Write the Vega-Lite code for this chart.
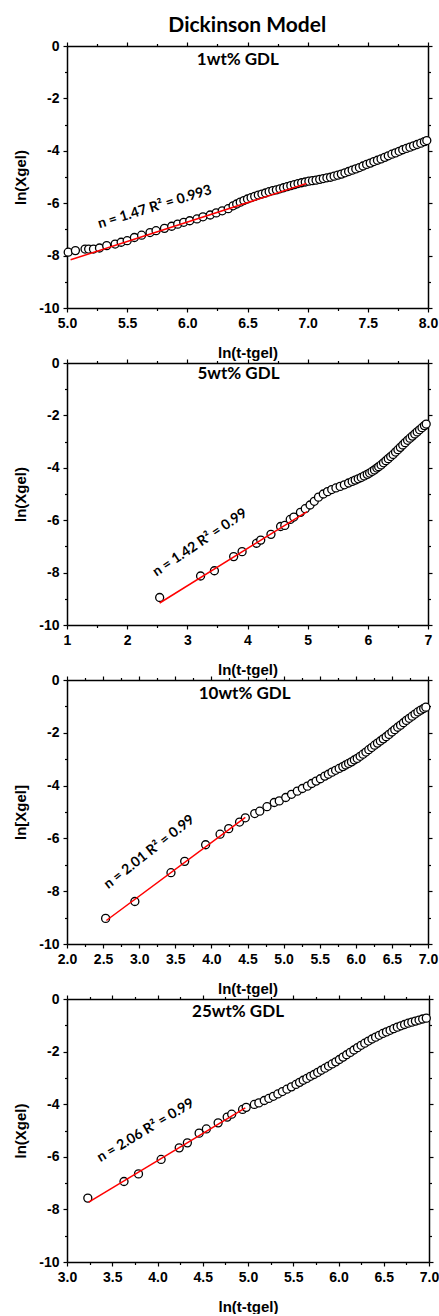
{
  "$schema": "https://vega.github.io/schema/vega-lite/v6.json",
  "background": "white",
  "padding": {"left": 13, "top": 15, "right": 0, "bottom": 0},
  "title": {"text": "Dickinson Model", "font": "Lato", "fontSize": 21, "fontWeight": "bold", "color": "black", "anchor": "middle", "dx": 21, "offset": 3},
  "spacing": 55,
  "bounds": "flush",
  "datasets": {
    "p1pts": [
      {"x":5.01,"y":-7.87},{"x":5.07,"y":-7.81},{"x":5.15,"y":-7.75},{"x":5.18,"y":-7.75},{"x":5.22,"y":-7.75},{"x":5.27,"y":-7.71},{"x":5.33,"y":-7.62},{"x":5.40,"y":-7.56},{"x":5.45,"y":-7.49},{"x":5.50,"y":-7.43},{"x":5.56,"y":-7.31},{"x":5.62,"y":-7.22},{"x":5.69,"y":-7.12},{"x":5.74,"y":-7.05},{"x":5.81,"y":-6.96},{"x":5.87,"y":-6.88},{"x":5.92,"y":-6.80},{"x":5.97,"y":-6.73},{"x":6.02,"y":-6.67},{"x":6.08,"y":-6.60},{"x":6.13,"y":-6.52},{"x":6.19,"y":-6.45},{"x":6.24,"y":-6.37},{"x":6.29,"y":-6.29},{"x":6.34,"y":-6.21},{"x":6.38,"y":-6.10},{"x":6.41,"y":-6.03},{"x":6.44,"y":-5.96},{"x":6.47,"y":-5.90},{"x":6.50,"y":-5.84},{"x":6.53,"y":-5.79},{"x":6.56,"y":-5.74},{"x":6.59,"y":-5.69},{"x":6.62,"y":-5.65},{"x":6.65,"y":-5.61},{"x":6.68,"y":-5.56},{"x":6.71,"y":-5.52},{"x":6.74,"y":-5.49},{"x":6.77,"y":-5.45},{"x":6.80,"y":-5.41},{"x":6.83,"y":-5.37},{"x":6.86,"y":-5.33},{"x":6.89,"y":-5.29},{"x":6.92,"y":-5.25},{"x":6.95,"y":-5.22},{"x":6.98,"y":-5.19},{"x":7.01,"y":-5.16},{"x":7.04,"y":-5.14},{"x":7.07,"y":-5.12},{"x":7.10,"y":-5.09},{"x":7.13,"y":-5.06},{"x":7.16,"y":-5.03},{"x":7.19,"y":-5.01},{"x":7.22,"y":-4.97},{"x":7.25,"y":-4.93},{"x":7.28,"y":-4.89},{"x":7.31,"y":-4.84},{"x":7.34,"y":-4.79},{"x":7.37,"y":-4.74},{"x":7.40,"y":-4.69},{"x":7.43,"y":-4.64},{"x":7.46,"y":-4.58},{"x":7.49,"y":-4.52},{"x":7.52,"y":-4.47},{"x":7.55,"y":-4.41},{"x":7.58,"y":-4.36},{"x":7.61,"y":-4.31},{"x":7.64,"y":-4.25},{"x":7.67,"y":-4.19},{"x":7.70,"y":-4.13},{"x":7.73,"y":-4.08},{"x":7.76,"y":-4.02},{"x":7.79,"y":-3.96},{"x":7.82,"y":-3.91},{"x":7.85,"y":-3.86},{"x":7.88,"y":-3.81},{"x":7.91,"y":-3.76},{"x":7.94,"y":-3.71},{"x":7.97,"y":-3.65},{"x":7.99,"y":-3.61}
    ],
    "p1fit": [{"x":5.03,"y":-8.16},{"x":6.99,"y":-5.25}],
    "p2pts": [
      {"x":2.54,"y":-8.95},{"x":3.22,"y":-8.13},{"x":3.45,"y":-7.93},{"x":3.77,"y":-7.39},{"x":3.91,"y":-7.20},{"x":4.15,"y":-6.88},{"x":4.22,"y":-6.76},{"x":4.39,"y":-6.54},{"x":4.55,"y":-6.24},{"x":4.62,"y":-6.20},{"x":4.71,"y":-5.97},{"x":4.77,"y":-5.88},{"x":4.88,"y":-5.70},{"x":4.96,"y":-5.56},{"x":5.04,"y":-5.42},{"x":5.11,"y":-5.28},{"x":5.18,"y":-5.12},{"x":5.26,"y":-5.00},{"x":5.33,"y":-4.91},{"x":5.40,"y":-4.83},{"x":5.47,"y":-4.77},{"x":5.54,"y":-4.71},{"x":5.61,"y":-4.65},{"x":5.68,"y":-4.58},{"x":5.74,"y":-4.52},{"x":5.79,"y":-4.47},{"x":5.84,"y":-4.42},{"x":5.89,"y":-4.37},{"x":5.94,"y":-4.31},{"x":5.99,"y":-4.25},{"x":6.03,"y":-4.20},{"x":6.07,"y":-4.14},{"x":6.11,"y":-4.08},{"x":6.15,"y":-4.01},{"x":6.18,"y":-3.96},{"x":6.22,"y":-3.89},{"x":6.26,"y":-3.81},{"x":6.30,"y":-3.73},{"x":6.34,"y":-3.65},{"x":6.38,"y":-3.57},{"x":6.42,"y":-3.49},{"x":6.46,"y":-3.40},{"x":6.50,"y":-3.31},{"x":6.54,"y":-3.22},{"x":6.58,"y":-3.13},{"x":6.62,"y":-3.04},{"x":6.66,"y":-2.95},{"x":6.70,"y":-2.87},{"x":6.74,"y":-2.79},{"x":6.78,"y":-2.71},{"x":6.82,"y":-2.63},{"x":6.86,"y":-2.55},{"x":6.90,"y":-2.47},{"x":6.94,"y":-2.39},{"x":6.97,"y":-2.33}
    ],
    "p2fit": [{"x":2.54,"y":-9.16},{"x":4.99,"y":-5.67}],
    "p3pts": [
      {"x":2.535,"y":-9.03},{"x":2.94,"y":-8.39},{"x":3.44,"y":-7.30},{"x":3.63,"y":-6.87},{"x":3.92,"y":-6.24},{"x":4.12,"y":-5.84},{"x":4.24,"y":-5.63},{"x":4.39,"y":-5.38},{"x":4.47,"y":-5.22},{"x":4.60,"y":-5.06},{"x":4.67,"y":-4.97},{"x":4.77,"y":-4.80},{"x":4.87,"y":-4.64},{"x":4.94,"y":-4.58},{"x":5.03,"y":-4.45},{"x":5.11,"y":-4.33},{"x":5.19,"y":-4.21},{"x":5.26,"y":-4.11},{"x":5.33,"y":-4.02},{"x":5.39,"y":-3.92},{"x":5.45,"y":-3.83},{"x":5.51,"y":-3.74},{"x":5.57,"y":-3.64},{"x":5.62,"y":-3.57},{"x":5.67,"y":-3.49},{"x":5.72,"y":-3.42},{"x":5.77,"y":-3.35},{"x":5.82,"y":-3.28},{"x":5.86,"y":-3.22},{"x":5.90,"y":-3.16},{"x":5.94,"y":-3.10},{"x":5.98,"y":-3.03},{"x":6.02,"y":-2.97},{"x":6.06,"y":-2.89},{"x":6.10,"y":-2.81},{"x":6.14,"y":-2.73},{"x":6.18,"y":-2.64},{"x":6.22,"y":-2.56},{"x":6.26,"y":-2.47},{"x":6.30,"y":-2.39},{"x":6.34,"y":-2.31},{"x":6.38,"y":-2.23},{"x":6.42,"y":-2.15},{"x":6.46,"y":-2.06},{"x":6.50,"y":-1.97},{"x":6.54,"y":-1.88},{"x":6.58,"y":-1.79},{"x":6.62,"y":-1.71},{"x":6.66,"y":-1.62},{"x":6.70,"y":-1.53},{"x":6.74,"y":-1.45},{"x":6.78,"y":-1.37},{"x":6.82,"y":-1.29},{"x":6.86,"y":-1.21},{"x":6.90,"y":-1.14},{"x":6.94,"y":-1.08},{"x":6.97,"y":-1.03}
    ],
    "p3fit": [{"x":2.545,"y":-9.11},{"x":4.47,"y":-5.20}],
    "p4pts": [
      {"x":3.23,"y":-7.57},{"x":3.63,"y":-6.94},{"x":3.79,"y":-6.65},{"x":4.04,"y":-6.10},{"x":4.24,"y":-5.66},{"x":4.33,"y":-5.47},{"x":4.46,"y":-5.10},{"x":4.54,"y":-4.94},{"x":4.67,"y":-4.71},{"x":4.77,"y":-4.49},{"x":4.82,"y":-4.38},{"x":4.94,"y":-4.20},{"x":4.98,"y":-4.12},{"x":5.07,"y":-4.01},{"x":5.12,"y":-3.95},{"x":5.18,"y":-3.86},{"x":5.23,"y":-3.78},{"x":5.28,"y":-3.70},{"x":5.33,"y":-3.61},{"x":5.38,"y":-3.52},{"x":5.43,"y":-3.43},{"x":5.48,"y":-3.34},{"x":5.53,"y":-3.25},{"x":5.57,"y":-3.17},{"x":5.61,"y":-3.09},{"x":5.65,"y":-3.02},{"x":5.69,"y":-2.94},{"x":5.73,"y":-2.87},{"x":5.77,"y":-2.79},{"x":5.81,"y":-2.71},{"x":5.85,"y":-2.63},{"x":5.89,"y":-2.55},{"x":5.93,"y":-2.47},{"x":5.97,"y":-2.39},{"x":6.01,"y":-2.30},{"x":6.05,"y":-2.21},{"x":6.09,"y":-2.12},{"x":6.13,"y":-2.03},{"x":6.17,"y":-1.94},{"x":6.21,"y":-1.85},{"x":6.25,"y":-1.76},{"x":6.29,"y":-1.68},{"x":6.33,"y":-1.60},{"x":6.37,"y":-1.52},{"x":6.41,"y":-1.45},{"x":6.45,"y":-1.38},{"x":6.49,"y":-1.31},{"x":6.53,"y":-1.25},{"x":6.57,"y":-1.19},{"x":6.61,"y":-1.13},{"x":6.65,"y":-1.07},{"x":6.69,"y":-1.02},{"x":6.73,"y":-0.97},{"x":6.77,"y":-0.92},{"x":6.81,"y":-0.88},{"x":6.85,"y":-0.84},{"x":6.89,"y":-0.80},{"x":6.93,"y":-0.76},{"x":6.97,"y":-0.73}
    ],
    "p4fit": [{"x":3.24,"y":-7.72},{"x":4.97,"y":-4.14}]
  },
  "vconcat": [
    {
      "width": 361, "height": 262,
      "layer": [
        {"data": {"name": "p1pts"},
         "mark": {"type": "point", "shape": "circle", "filled": true, "fill": "white", "stroke": "black", "strokeWidth": 1.3, "size": 64, "opacity": 1},
         "encoding": {
           "x": {"field": "x", "type": "quantitative", "scale": {"domain": [5, 8], "nice": false, "zero": false},
                 "axis": {"orient": "bottom", "values": [5,5.25,5.5,5.75,6,6.25,6.5,6.75,7,7.25,7.5,7.75,8], "labelExpr": "abs(datum.value*2 - round(datum.value*2)) > 0.01 ? '' : format(datum.value, '.1f')", "tickSize": {"condition": {"test": "abs(datum.value*2 - round(datum.value*2)) > 0.01", "value": 2.5}, "value": 4}, "labelPadding": 4, "title": "ln(t-tgel)", "titlePadding": 15}},
           "y": {"field": "y", "type": "quantitative", "scale": {"domain": [-10, 0], "nice": false, "zero": false},
                 "axis": {"orient": "left", "values": [0,-1,-2,-3,-4,-5,-6,-7,-8,-9,-10], "labelExpr": "abs(datum.value % 2) > 0.01 ? '' : '' + datum.value", "tickSize": {"condition": {"test": "abs(datum.value % 2) > 0.01", "value": 2.5}, "value": 4}, "labelPadding": 4, "title": "ln(Xgel)", "titlePadding": 10}}
         }},
        {"data": {"name": "p1fit"},
         "mark": {"type": "line", "color": "#ff0000", "strokeWidth": 1.5},
         "encoding": {
           "x": {"field": "x", "type": "quantitative", "axis": {"orient": "top", "values": [5,5.25,5.5,5.75,6,6.25,6.5,6.75,7,7.25,7.5,7.75,8], "labels": false, "title": null, "tickSize": {"condition": {"test": "abs(datum.value*2 - round(datum.value*2)) > 0.01", "value": 2.5}, "value": 4}}},
           "y": {"field": "y", "type": "quantitative", "axis": {"orient": "right", "values": [0,-1,-2,-3,-4,-5,-6,-7,-8,-9,-10], "labels": false, "title": null, "tickSize": {"condition": {"test": "abs(datum.value % 2) > 0.01", "value": 2.5}, "value": 4}}}
         }},
        {"data": {"values": [{}]},
         "mark": {"type": "text", "font": "Lato", "fontWeight": "bold", "fontSize": 14, "angle": 343, "align": "center", "baseline": "middle", "color": "black"},
         "encoding": {"x": {"datum": 5.73, "type": "quantitative", "axis": null}, "y": {"datum": -6.15, "type": "quantitative", "axis": null}, "text": {"value": "n = 1.47 R² = 0.993"}}},
        {"data": {"values": [{}]},
         "mark": {"type": "text", "font": "Lato", "fontWeight": "bold", "fontSize": 17, "align": "center", "baseline": "middle", "color": "black"},
         "encoding": {"x": {"datum": 6.42, "type": "quantitative", "axis": null}, "y": {"datum": -0.53, "type": "quantitative", "axis": null}, "text": {"value": "1wt% GDL"}}}
      ]
    },
    {
      "width": 361, "height": 262,
      "layer": [
        {"data": {"name": "p2pts"},
         "mark": {"type": "point", "shape": "circle", "filled": true, "fill": "white", "stroke": "black", "strokeWidth": 1.3, "size": 64, "opacity": 1},
         "encoding": {
           "x": {"field": "x", "type": "quantitative", "scale": {"domain": [1, 7], "nice": false, "zero": false},
                 "axis": {"orient": "bottom", "values": [1,1.5,2,2.5,3,3.5,4,4.5,5,5.5,6,6.5,7], "labelExpr": "abs(datum.value - round(datum.value)) > 0.01 ? '' : format(datum.value, 'd')", "tickSize": {"condition": {"test": "abs(datum.value - round(datum.value)) > 0.01", "value": 2.5}, "value": 4}, "labelPadding": 4, "title": "ln(t-tgel)", "titlePadding": 15}},
           "y": {"field": "y", "type": "quantitative", "scale": {"domain": [-10, 0], "nice": false, "zero": false},
                 "axis": {"orient": "left", "values": [0,-1,-2,-3,-4,-5,-6,-7,-8,-9,-10], "labelExpr": "abs(datum.value % 2) > 0.01 ? '' : '' + datum.value", "tickSize": {"condition": {"test": "abs(datum.value % 2) > 0.01", "value": 2.5}, "value": 4}, "labelPadding": 4, "title": "ln(Xgel)", "titlePadding": 10}}
         }},
        {"data": {"name": "p2fit"},
         "mark": {"type": "line", "color": "#ff0000", "strokeWidth": 1.5},
         "encoding": {
           "x": {"field": "x", "type": "quantitative", "axis": {"orient": "top", "values": [1,1.5,2,2.5,3,3.5,4,4.5,5,5.5,6,6.5,7], "labels": false, "title": null, "tickSize": {"condition": {"test": "abs(datum.value - round(datum.value)) > 0.01", "value": 2.5}, "value": 4}}},
           "y": {"field": "y", "type": "quantitative", "axis": {"orient": "right", "values": [0,-1,-2,-3,-4,-5,-6,-7,-8,-9,-10], "labels": false, "title": null, "tickSize": {"condition": {"test": "abs(datum.value % 2) > 0.01", "value": 2.5}, "value": 4}}}
         }},
        {"data": {"values": [{}]},
         "mark": {"type": "text", "font": "Lato", "fontWeight": "bold", "fontSize": 14, "angle": 326, "align": "center", "baseline": "middle", "color": "black"},
         "encoding": {"x": {"datum": 3.21, "type": "quantitative", "axis": null}, "y": {"datum": -6.86, "type": "quantitative", "axis": null}, "text": {"value": "n = 1.42 R² = 0.99"}}},
        {"data": {"values": [{}]},
         "mark": {"type": "text", "font": "Lato", "fontWeight": "bold", "fontSize": 17, "align": "center", "baseline": "middle", "color": "black"},
         "encoding": {"x": {"datum": 3.85, "type": "quantitative", "axis": null}, "y": {"datum": -0.43, "type": "quantitative", "axis": null}, "text": {"value": "5wt% GDL"}}}
      ]
    },
    {
      "width": 361, "height": 264,
      "layer": [
        {"data": {"name": "p3pts"},
         "mark": {"type": "point", "shape": "circle", "filled": true, "fill": "white", "stroke": "black", "strokeWidth": 1.3, "size": 64, "opacity": 1},
         "encoding": {
           "x": {"field": "x", "type": "quantitative", "scale": {"domain": [2, 7], "nice": false, "zero": false},
                 "axis": {"orient": "bottom", "values": [2,2.25,2.5,2.75,3,3.25,3.5,3.75,4,4.25,4.5,4.75,5,5.25,5.5,5.75,6,6.25,6.5,6.75,7], "labelExpr": "abs(datum.value*2 - round(datum.value*2)) > 0.01 ? '' : format(datum.value, '.1f')", "tickSize": {"condition": {"test": "abs(datum.value*2 - round(datum.value*2)) > 0.01", "value": 2.5}, "value": 4}, "labelPadding": 4, "title": "ln(t-tgel)", "titlePadding": 15}},
           "y": {"field": "y", "type": "quantitative", "scale": {"domain": [-10, 0], "nice": false, "zero": false},
                 "axis": {"orient": "left", "values": [0,-1,-2,-3,-4,-5,-6,-7,-8,-9,-10], "labelExpr": "abs(datum.value % 2) > 0.01 ? '' : '' + datum.value", "tickSize": {"condition": {"test": "abs(datum.value % 2) > 0.01", "value": 2.5}, "value": 4}, "labelPadding": 4, "title": "ln[Xgel]", "titlePadding": 10}}
         }},
        {"data": {"name": "p3fit"},
         "mark": {"type": "line", "color": "#ff0000", "strokeWidth": 1.5},
         "encoding": {
           "x": {"field": "x", "type": "quantitative", "axis": {"orient": "top", "values": [2,2.25,2.5,2.75,3,3.25,3.5,3.75,4,4.25,4.5,4.75,5,5.25,5.5,5.75,6,6.25,6.5,6.75,7], "labels": false, "title": null, "tickSize": {"condition": {"test": "abs(datum.value*2 - round(datum.value*2)) > 0.01", "value": 2.5}, "value": 4}}},
           "y": {"field": "y", "type": "quantitative", "axis": {"orient": "right", "values": [0,-1,-2,-3,-4,-5,-6,-7,-8,-9,-10], "labels": false, "title": null, "tickSize": {"condition": {"test": "abs(datum.value % 2) > 0.01", "value": 2.5}, "value": 4}}}
         }},
        {"data": {"values": [{}]},
         "mark": {"type": "text", "font": "Lato", "fontWeight": "bold", "fontSize": 14, "angle": 322, "align": "center", "baseline": "middle", "color": "black"},
         "encoding": {"x": {"datum": 3.14, "type": "quantitative", "axis": null}, "y": {"datum": -6.52, "type": "quantitative", "axis": null}, "text": {"value": "n = 2.01 R² = 0.99"}}},
        {"data": {"values": [{}]},
         "mark": {"type": "text", "font": "Lato", "fontWeight": "bold", "fontSize": 17, "align": "center", "baseline": "middle", "color": "black"},
         "encoding": {"x": {"datum": 4.46, "type": "quantitative", "axis": null}, "y": {"datum": -0.53, "type": "quantitative", "axis": null}, "text": {"value": "10wt% GDL"}}}
      ]
    },
    {
      "width": 362, "height": 263,
      "layer": [
        {"data": {"name": "p4pts"},
         "mark": {"type": "point", "shape": "circle", "filled": true, "fill": "white", "stroke": "black", "strokeWidth": 1.3, "size": 64, "opacity": 1},
         "encoding": {
           "x": {"field": "x", "type": "quantitative", "scale": {"domain": [3, 7], "nice": false, "zero": false},
                 "axis": {"orient": "bottom", "values": [3,3.25,3.5,3.75,4,4.25,4.5,4.75,5,5.25,5.5,5.75,6,6.25,6.5,6.75,7], "labelExpr": "abs(datum.value*2 - round(datum.value*2)) > 0.01 ? '' : format(datum.value, '.1f')", "tickSize": {"condition": {"test": "abs(datum.value*2 - round(datum.value*2)) > 0.01", "value": 2.5}, "value": 4}, "labelPadding": 4, "title": "ln(t-tgel)", "titlePadding": 15}},
           "y": {"field": "y", "type": "quantitative", "scale": {"domain": [-10, 0], "nice": false, "zero": false},
                 "axis": {"orient": "left", "values": [0,-1,-2,-3,-4,-5,-6,-7,-8,-9,-10], "labelExpr": "abs(datum.value % 2) > 0.01 ? '' : '' + datum.value", "tickSize": {"condition": {"test": "abs(datum.value % 2) > 0.01", "value": 2.5}, "value": 4}, "labelPadding": 4, "title": "ln(Xgel)", "titlePadding": 10}}
         }},
        {"data": {"name": "p4fit"},
         "mark": {"type": "line", "color": "#ff0000", "strokeWidth": 1.5},
         "encoding": {
           "x": {"field": "x", "type": "quantitative", "axis": {"orient": "top", "values": [3,3.25,3.5,3.75,4,4.25,4.5,4.75,5,5.25,5.5,5.75,6,6.25,6.5,6.75,7], "labels": false, "title": null, "tickSize": {"condition": {"test": "abs(datum.value*2 - round(datum.value*2)) > 0.01", "value": 2.5}, "value": 4}}},
           "y": {"field": "y", "type": "quantitative", "axis": {"orient": "right", "values": [0,-1,-2,-3,-4,-5,-6,-7,-8,-9,-10], "labels": false, "title": null, "tickSize": {"condition": {"test": "abs(datum.value % 2) > 0.01", "value": 2.5}, "value": 4}}}
         }},
        {"data": {"values": [{}]},
         "mark": {"type": "text", "font": "Lato", "fontWeight": "bold", "fontSize": 14, "angle": 329, "align": "center", "baseline": "middle", "color": "black"},
         "encoding": {"x": {"datum": 3.87, "type": "quantitative", "axis": null}, "y": {"datum": -5.0, "type": "quantitative", "axis": null}, "text": {"value": "n = 2.06 R² = 0.99"}}},
        {"data": {"values": [{}]},
         "mark": {"type": "text", "font": "Lato", "fontWeight": "bold", "fontSize": 17, "align": "center", "baseline": "middle", "color": "black"},
         "encoding": {"x": {"datum": 4.89, "type": "quantitative", "axis": null}, "y": {"datum": -0.48, "type": "quantitative", "axis": null}, "text": {"value": "25wt% GDL"}}}
      ]
    }
  ],
  "config": {
    "view": {"stroke": null},
    "axis": {
      "grid": false, "domainColor": "black", "domainWidth": 1.5, "tickColor": "black", "tickWidth": 1.2,
      "labelFont": "Liberation Sans", "labelFontSize": 14, "labelFontWeight": "bold", "labelColor": "black",
      "titleFont": "Liberation Sans", "titleFontSize": 15, "titleFontWeight": "bold", "titleColor": "black",
      "labelOverlap": false, "labelFlush": false, "labelBound": false
    }
  }
}
